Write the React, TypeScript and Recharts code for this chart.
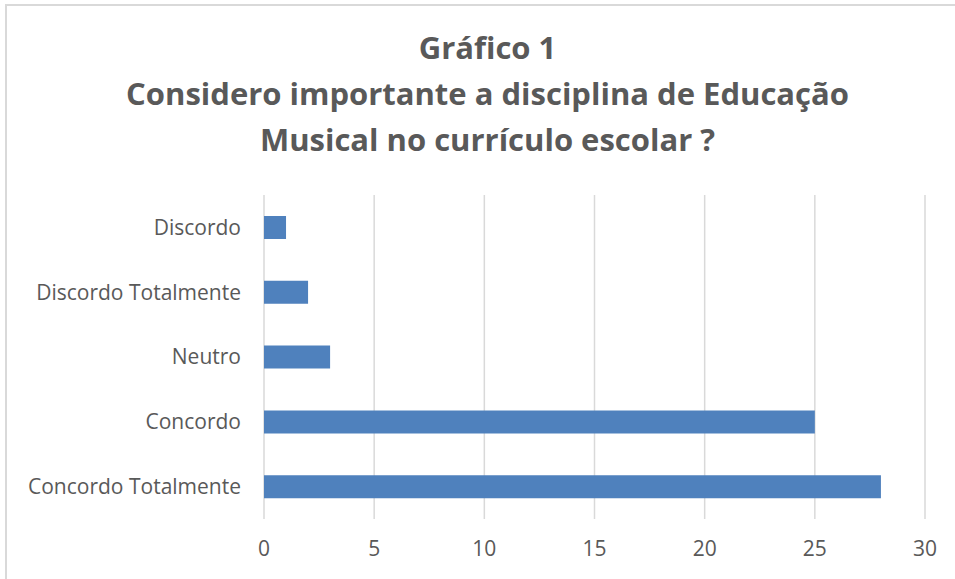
import { BarChart, Bar, XAxis, YAxis, CartesianGrid } from 'recharts';

const categorias = ['Discordo', 'Discordo Totalmente', 'Neutro', 'Concordo', 'Concordo Totalmente'];
const respostas = [1, 2, 3, 25, 28];
const ticksX = [0, 5, 10, 15, 20, 25, 30];

const tituloLinhas = ['Gráfico 1', 'Considero importante a disciplina de Educação', 'Musical no currículo escolar ?'];

const fonte = '"Open Sans", "Noto Sans", sans-serif';

export default function App() {
  const data = categorias.map((nome, i) => ({ nome, valor: respostas[i] }));

  return (
    <div
      style={{
        position: 'absolute',
        left: 0,
        top: 0,
        width: 955,
        height: 579,
        overflow: 'hidden',
        background: '#fff',
        fontFamily: fonte,
      }}
    >
      {/* moldura cortada: só aparecem topo e lado esquerdo */}
      <div
        style={{
          position: 'absolute',
          left: 5,
          top: 4,
          width: 1200,
          height: 800,
          border: '2px solid #d9d9d9',
        }}
      />
      <div
        style={{
          position: 'absolute',
          left: 0,
          top: 24,
          width: 975,
          textAlign: 'center',
          color: '#595959',
          fontWeight: 700,
          fontSize: 31,
          lineHeight: '46px',
        }}
      >
        {tituloLinhas.map((l) => (
          <div key={l}>{l}</div>
        ))}
      </div>
      <div style={{ position: 'absolute', left: 0, top: 0 }}>
        <BarChart
          width={955}
          height={579}
          data={data}
          layout="vertical"
          margin={{ top: 195, right: 30, bottom: 20, left: 0 }}
        >
          <CartesianGrid horizontal={false} stroke="#d9d9d9" strokeWidth={1.5} />
          <XAxis
            type="number"
            domain={[0, 30]}
            ticks={ticksX}
            axisLine={false}
            tickLine={false}
            tickMargin={16}
            height={40}
            tick={{ fill: '#595959', fontSize: 21, fontFamily: fonte }}
          />
          <YAxis
            type="category"
            dataKey="nome"
            width={264}
            axisLine={false}
            tickLine={false}
            tickMargin={17}
            tick={{ fill: '#595959', fontSize: 21, fontFamily: fonte }}
          />
          <Bar dataKey="valor" fill="#4f81bd" barSize={23} isAnimationActive={false} />
        </BarChart>
      </div>
    </div>
  );
}
